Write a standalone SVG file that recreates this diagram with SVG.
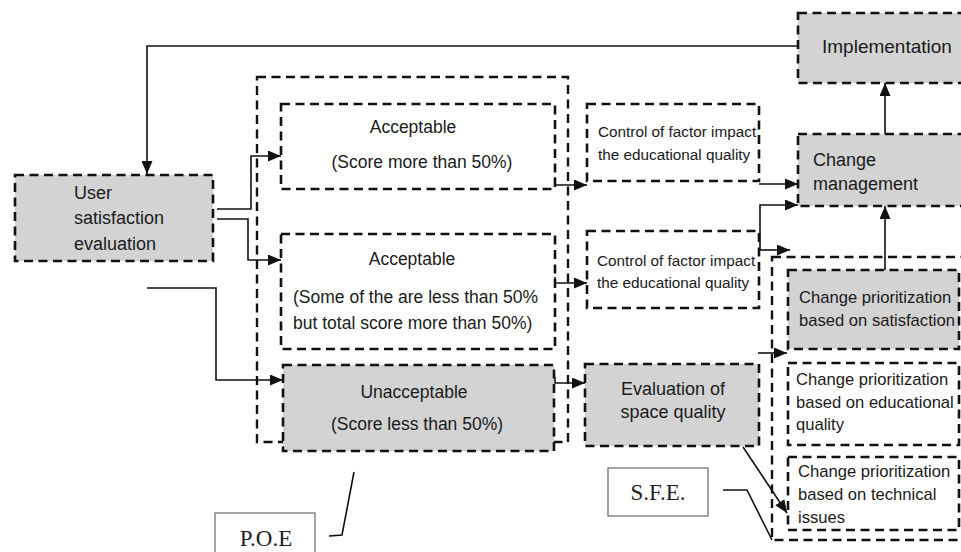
<svg xmlns="http://www.w3.org/2000/svg" width="961" height="552" viewBox="0 0 961 552">
<defs>
<style>
.box{fill:#fff;stroke:#111;stroke-width:2.6;stroke-dasharray:9 5.5}
.gray{fill:#d3d3d3}
.grp{fill:none;stroke:#111;stroke-width:2.4;stroke-dasharray:9 5.5}
.lbl{fill:#fff;stroke:#666;stroke-width:1.2}
.t{font-family:"Liberation Sans",Arial,sans-serif;fill:#1a1a1a}
.s{font-family:"Liberation Serif","Times New Roman",serif;fill:#222;font-size:23px}
.c{fill:none;stroke:#111;stroke-width:1.6}
</style>
<marker id="ah" markerWidth="13" markerHeight="11" refX="13" refY="5.5" orient="auto" markerUnits="userSpaceOnUse">
<path d="M0,0 L13,5.5 L0,11 Z" fill="#111"/>
</marker>
</defs>
<rect width="961" height="552" fill="#fff"/>

<g id="poe-group"><rect class="grp" x="257" y="77" width="311" height="365"/></g>
<g id="sfe-group"><rect class="grp" x="772" y="257" width="205" height="283"/></g>

<g id="user">
<rect class="box gray" x="15" y="175" width="198" height="86"/>
<text class="t" font-size="18" x="74" y="199">User</text>
<text class="t" font-size="18" x="74" y="224">satisfaction</text>
<text class="t" font-size="18" x="74" y="250">evaluation</text>
</g>

<g id="acceptable1">
<rect class="box" x="281" y="104" width="274" height="85"/>
<text class="t" font-size="17.5" x="413" y="133" text-anchor="middle">Acceptable</text>
<text class="t" font-size="17.5" x="422" y="168" text-anchor="middle">(Score more than 50%)</text>
</g>

<g id="acceptable2">
<rect class="box" x="281" y="234" width="274" height="115"/>
<text class="t" font-size="17.5" x="412" y="265" text-anchor="middle">Acceptable</text>
<text class="t" font-size="17.5" x="293" y="303">(Some of the are less than 50%</text>
<text class="t" font-size="17.5" x="293" y="329">but total score more than 50%)</text>
</g>

<g id="unacceptable">
<rect class="box gray" x="283" y="365" width="271" height="86"/>
<text class="t" font-size="17.5" x="414" y="398" text-anchor="middle">Unacceptable</text>
<text class="t" font-size="17.5" x="417" y="430" text-anchor="middle">(Score less than 50%)</text>
</g>

<g id="control1">
<rect class="box" x="587" y="104" width="172" height="77"/>
<text class="t" font-size="15.3" x="598" y="137">Control of factor impact</text>
<text class="t" font-size="15.3" x="598" y="160">the educational quality</text>
</g>

<g id="control2">
<rect class="box" x="587" y="231" width="172" height="77"/>
<text class="t" font-size="15.3" x="597" y="266">Control of factor impact</text>
<text class="t" font-size="15.3" x="597" y="288">the educational quality</text>
</g>

<g id="evaluation">
<rect class="box gray" x="585" y="364" width="174" height="82"/>
<text class="t" font-size="18" x="673" y="395" text-anchor="middle">Evaluation of</text>
<text class="t" font-size="18" x="673" y="418" text-anchor="middle">space quality</text>
</g>

<g id="implementation">
<rect class="box gray" x="798" y="13" width="180" height="70"/>
<text class="t" font-size="19" x="822" y="53">Implementation</text>
</g>

<g id="change-management">
<rect class="box gray" x="798" y="134" width="180" height="72"/>
<text class="t" font-size="18" x="813" y="166">Change</text>
<text class="t" font-size="18" x="813" y="190">management</text>
</g>

<g id="prio-satisfaction">
<rect class="box gray" x="788" y="270" width="171" height="79"/>
<text class="t" font-size="16.6" x="799" y="303">Change prioritization</text>
<text class="t" font-size="16.6" x="799" y="326">based on satisfaction</text>
</g>

<g id="prio-educational">
<rect class="box" x="788" y="363" width="171" height="82"/>
<text class="t" font-size="16.6" x="796" y="385">Change prioritization</text>
<text class="t" font-size="16.6" x="796" y="408">based on educational</text>
<text class="t" font-size="16.6" x="796" y="430">quality</text>
</g>

<g id="prio-technical">
<rect class="box" x="788" y="457" width="171" height="73"/>
<text class="t" font-size="16.6" x="798" y="477">Change prioritization</text>
<text class="t" font-size="16.6" x="798" y="500">based on technical</text>
<text class="t" font-size="16.6" x="798" y="523"> issues</text>
</g>

<g id="sfe-label">
<rect class="lbl" x="608" y="468" width="100" height="48"/>
<text class="s" x="658" y="500" text-anchor="middle">S.F.E.</text>
</g>

<g id="poe-label">
<rect class="lbl" x="215" y="513" width="100" height="50"/>
<text class="s" x="266" y="546" text-anchor="middle">P.O.E</text>
</g>

<g id="connectors">
<polyline class="c" points="798,46 147,46 147,174" marker-end="url(#ah)"/>
<polyline class="c" points="217,209 251,209 251,156 281,156" marker-end="url(#ah)"/>
<polyline class="c" points="217,219 248,219 248,260 281,260" marker-end="url(#ah)"/>
<polyline class="c" points="147,288 216,288 216,380 283,380" marker-end="url(#ah)"/>
<polyline class="c" points="555,177 555,185 587,185" marker-end="url(#ah)"/>
<polyline class="c" points="555,277 555,283 587,283" marker-end="url(#ah)"/>
<polyline class="c" points="555,377 555,383 585,383" marker-end="url(#ah)"/>
<polyline class="c" points="759,184 798,184" marker-end="url(#ah)"/>
<polyline class="c" points="760,250 760,205 798,205" marker-end="url(#ah)"/>
<polyline class="c" points="760,250 790,250" marker-end="url(#ah)"/>
<polyline class="c" points="758,353 787,353" marker-end="url(#ah)"/>
<polyline class="c" points="885,134 885,83" marker-end="url(#ah)"/>
<polyline class="c" points="885,270 885,206" marker-end="url(#ah)"/>
<polyline class="c" points="743,447 787,513" marker-end="url(#ah)"/>
<polyline class="c" points="723,490 747,490 772,540"/>
<polyline class="c" points="329,536 342,535 354,472"/>
</g>
</svg>
